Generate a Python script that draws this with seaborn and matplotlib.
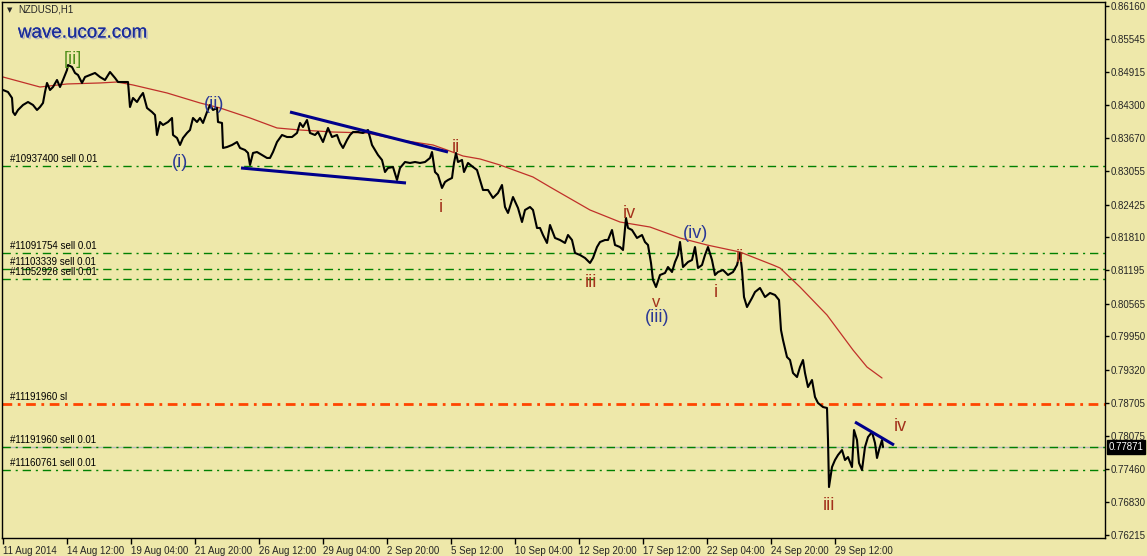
import numpy as np
import pandas as pd
import seaborn as sns
import matplotlib.pyplot as plt
import matplotlib.patheffects as pe
from matplotlib.transforms import blended_transform_factory

# NZDUSD H1, значения (бар -> цена закрытия)
bars = [0, 5, 9, 10, 12, 15, 20, 25, 30, 34, 37, 40, 42, 44, 47, 50, 54, 57, 60, 64,
        65, 69, 72, 75, 79, 82, 87, 92, 97, 102, 107, 112, 115, 120, 125, 127, 130, 134, 137, 140,
        144, 149, 152, 154, 157, 160, 165, 169, 170, 174, 177, 180, 184, 187, 190, 194, 197, 200, 204, 207,
        210, 214, 215, 219, 220, 224, 229, 234, 237, 242, 245, 247, 250, 254, 259, 264, 267, 270, 274, 279,
        284, 289, 294, 297, 300, 304, 307, 312, 315, 320, 325, 329, 334, 337, 340, 344, 347, 350, 355, 360,
        365, 369, 372, 375, 379, 382, 385, 390, 394, 397, 402, 407, 412, 417, 422, 427, 429, 432, 435, 439,
        442, 445,
        449, 451, 453, 455, 459, 461, 465, 470, 474, 477, 480, 485, 490, 495, 499, 502, 505, 510, 515, 519,
        522, 527, 530, 534, 537, 540, 544, 547, 552, 557, 562, 565, 569, 572, 577, 582, 587, 590, 594, 597,
        602, 605, 609, 612, 617, 620, 623, 625, 629, 634, 639, 642, 645, 648, 650, 653, 657, 662, 665, 669,
        672, 675, 677, 680, 685, 689, 692, 695, 699, 702, 705, 709, 712, 715, 720, 725, 730, 734, 737, 739,
        741, 744, 749, 752, 757, 762, 767, 772, 776, 778, 780, 784, 787, 790, 794, 797, 800, 802, 805, 809,
        812, 815, 820, 824, 825, 826, 829, 832, 835, 839, 842, 845, 849, 851, 854, 856, 859, 862, 865, 869,
        872, 874, 876, 879, 880]
close = [0.84581, 0.84543, 0.84431, 0.84167, 0.84111, 0.84205, 0.84299, 0.84355, 0.84299, 0.84205,
         0.84261, 0.84337, 0.84543, 0.84713, 0.84581, 0.84637, 0.84769, 0.84637, 0.84769, 0.84957,
         0.85051, 0.85013, 0.84901, 0.84863, 0.84713, 0.84825, 0.84863, 0.84901, 0.84825, 0.84769,
         0.84919, 0.84807, 0.84731, 0.84731, 0.84731, 0.84261, 0.84431, 0.84355, 0.84449, 0.84525,
         0.84243, 0.84167, 0.84111, 0.83735, 0.83979, 0.83923, 0.83979, 0.84055, 0.83735, 0.83679,
         0.83547, 0.83679, 0.83773, 0.83829, 0.84055, 0.83979, 0.84055, 0.83961, 0.84167, 0.84299,
         0.84205, 0.84243, 0.83979, 0.83961, 0.83491, 0.83509, 0.83547, 0.83603, 0.83491, 0.83453,
         0.83397, 0.83171, 0.83397, 0.83415, 0.83359, 0.83303, 0.83303, 0.83415, 0.83603, 0.83735,
         0.83697, 0.83697, 0.83773, 0.83961, 0.83885, 0.84017, 0.83773, 0.83735, 0.83791, 0.83603,
         0.83867, 0.83697, 0.83735, 0.83585, 0.83491, 0.83641, 0.83735, 0.83791, 0.83791, 0.83773,
         0.83829, 0.83547, 0.83453, 0.83359, 0.83265, 0.83039, 0.83115, 0.83133, 0.82889, 0.83115,
         0.83227, 0.83209, 0.83227, 0.83209, 0.83227, 0.83303, 0.83415, 0.83039, 0.82983, 0.82739,
         0.82851, 0.82889,
         0.82927, 0.83209, 0.83397, 0.83227, 0.83265, 0.83039, 0.83209, 0.83133, 0.83077, 0.82889,
         0.82701, 0.82701, 0.82551, 0.82645, 0.82795, 0.82381, 0.82269, 0.82569, 0.82363, 0.82099,
         0.82325, 0.82381, 0.82325, 0.81987, 0.81987, 0.81855, 0.81705, 0.82043, 0.81799, 0.81761,
         0.81705, 0.81855, 0.81761, 0.81517, 0.81479, 0.81423, 0.81329, 0.81423, 0.81629, 0.81723,
         0.81761, 0.81761, 0.81949, 0.81667, 0.81629, 0.81573, 0.82175, 0.81987, 0.81949, 0.81799,
         0.81855, 0.81723, 0.81667, 0.81329, 0.81009, 0.80877, 0.81103, 0.81141, 0.81253, 0.81159,
         0.81347, 0.81479, 0.81723, 0.81253, 0.81347, 0.81385, 0.81629, 0.81235, 0.81291, 0.81479,
         0.81629, 0.81385, 0.81103, 0.81159, 0.81197, 0.81103, 0.81159, 0.81291, 0.81517, 0.81197,
         0.80689, 0.80501, 0.80671, 0.80783, 0.80859, 0.80689, 0.80765, 0.80727, 0.80633, 0.80069,
         0.79881, 0.79561, 0.79505, 0.79261, 0.79185, 0.79373, 0.79505, 0.79261, 0.78997, 0.79129,
         0.78809, 0.78697, 0.78621, 0.78603, 0.78001, 0.77117, 0.77493, 0.77625, 0.77719, 0.77813,
         0.77625, 0.77681, 0.77493, 0.78189, 0.78001, 0.77569, 0.77437, 0.77869, 0.78057, 0.78151,
         0.77945, 0.77663, 0.77813, 0.78001, 0.77871]

ma_bars = [0, 37, 64, 97, 114, 130, 164, 197, 217, 247, 274, 297, 330, 364, 397, 430, 444, 460,
           477, 497, 530, 547, 587, 617, 647, 677, 704, 737, 770, 777, 797, 824, 850, 864, 879]
ma_vals = [0.84825, 0.84637, 0.84694, 0.84713, 0.84731, 0.84675, 0.84525, 0.84337, 0.84243, 0.84055,
           0.83867, 0.83829, 0.83791, 0.83773, 0.83641, 0.83547, 0.83453, 0.83340, 0.83284, 0.83171,
           0.82945, 0.82757, 0.82325, 0.82099, 0.82005, 0.81799, 0.81667, 0.81535, 0.81291, 0.81235,
           0.80877, 0.80351, 0.79693, 0.79373, 0.79167]

# трендовые линии: (бар1, цена1, бар2, цена2)
trend_lines = [(287, 0.84167, 445, 0.83415),
               (238, 0.83115, 403, 0.82833),
               (852, 0.78339, 891, 0.77907)]

order_labels = ["#10937400 sell 0.01", "#11091754 sell 0.01", "#11103339 sell 0.01",
                "#11052926 sell 0.01", "#11191960 sl", "#11191960 sell 0.01", "#11160761 sell 0.01"]
order_levels = [0.83152, 0.81517, 0.81216, 0.81028, 0.78678, 0.77875, 0.77437]
order_is_sl = [False, False, False, False, True, False, False]
bid = 0.77871

wave_text = ["[ii]", "(i)", "(ii)", "ii", "i", "iii", "iv", "v", "(iii)", "(iv)", "i", "ii", "iii", "iv"]
wave_bar = [70, 177, 211, 453, 438, 588, 626, 653, 654, 693, 713, 737, 826, 897]
wave_price = [0.85145, 0.83209, 0.84299, 0.83509, 0.82363, 0.80971, 0.82250, 0.80580, 0.80310,
              0.81874, 0.80765, 0.81423, 0.76779, 0.78264]
wave_kind = ["g", "b", "b", "r", "r", "r", "r", "r", "b", "b", "r", "r", "r", "r"]

y_ticks = [0.86160, 0.85545, 0.84915, 0.84300, 0.83670, 0.83055, 0.82425, 0.81810, 0.81195,
           0.80565, 0.79950, 0.79320, 0.78705, 0.78075, 0.77460, 0.76830, 0.76215]
x_ticks = [0, 64, 128, 192, 256, 320, 384, 448, 512, 576, 640, 704, 768, 832]
x_labels = ["11 Aug 2014", "14 Aug 12:00", "19 Aug 04:00", "21 Aug 20:00", "26 Aug 12:00",
            "29 Aug 04:00", "2 Sep 20:00", "5 Sep 12:00", "10 Sep 04:00", "12 Sep 20:00",
            "17 Sep 12:00", "22 Sep 04:00", "24 Sep 20:00", "29 Sep 12:00"]

bg = "#EEE8AA"
sns.set_theme(style="white", rc={"axes.facecolor": bg, "figure.facecolor": bg})
plt.rcParams["font.family"] = ["Liberation Sans", "DejaVu Sans"]

fig = plt.figure(figsize=(11.47, 5.56), dpi=100)
ax = fig.add_axes([2 / 1147, 18 / 556, 1103 / 1147, 536 / 556])

# горизонтальные линии ордеров
for lab, lvl, sl in zip(order_labels, order_levels, order_is_sl):
    if sl:
        ax.axhline(lvl, color="#FF4500", lw=2, ls=(0, (3.5, 2, 1, 2)), zorder=1)
    else:
        ax.axhline(lvl, color="#008000", lw=1, ls=(0, (6, 3.5, 1.5, 3.5)), zorder=1)
    ax.annotate(lab, xy=(7, lvl), xytext=(0, 1.5), textcoords="offset points",
                fontsize=7, color="black", va="bottom", ha="left")
ax.axhline(bid, color="#b8b8b8", lw=1, zorder=0.9)

df = pd.DataFrame({"bar": bars, "close": close})
ma = pd.DataFrame({"bar": ma_bars, "ma": ma_vals})
sns.lineplot(data=ma, x="bar", y="ma", ax=ax, color="#c0302a", lw=0.9, estimator=None, sort=False)
sns.lineplot(data=df, x="bar", y="close", ax=ax, color="black", lw=1.5, estimator=None, sort=False)

for x1, y1, x2, y2 in trend_lines:
    ax.plot([x1, x2], [y1, y2], color="#00008B", lw=2.2, solid_capstyle="butt")

colors = {"g": "#4f8f1a", "b": "#2a3896", "r": "#a3321c"}
for t, b, p, k in zip(wave_text, wave_bar, wave_price, wave_kind):
    ax.text(b, p, t, color=colors[k], fontsize=13 if t != "v" else 12, ha="center", va="center")

ax.text(16 / 1103, 1 - 31 / 536, "wave.ucoz.com", transform=ax.transAxes, fontsize=13.5,
        color="#1a2d9c", va="center", ha="left",
        path_effects=[pe.withSimplePatchShadow(offset=(1.2, -1.2), shadow_rgbFace="#a8a8c0", alpha=0.8),
                      pe.Normal()])
ax.text(5 / 1103, 1 - 8 / 536, "\u25bc", transform=ax.transAxes, fontsize=5, va="center", ha="left",
        family="DejaVu Sans")
ax.text(16 / 1103, 1 - 8 / 536, "NZDUSD,H1", transform=ax.transAxes, fontsize=7, va="center", ha="left")

ax.set_xlim(-1, 1102)
ax.set_ylim(0.76159, 0.86235)
ax.yaxis.tick_right()
ax.set_yticks(y_ticks)
ax.set_yticklabels([f"{v:.5f}" for v in y_ticks], fontsize=7)
ax.set_xticks(x_ticks)
ax.set_xticklabels(x_labels, fontsize=7, ha="left")
ax.tick_params(axis="x", direction="out", length=4, width=1, color="black", pad=1.5, bottom=True, top=False)
ax.tick_params(axis="y", direction="out", length=3, width=1, color="black", pad=1, right=True, left=False)
ax.set_xlabel("")
ax.set_ylabel("")
for s in ax.spines.values():
    s.set_color("black")
    s.set_linewidth(1)

trans = blended_transform_factory(ax.transAxes, ax.transData)
ax.text(1.003, bid, f"{bid:.5f}", transform=trans, fontsize=7, color="white", va="center", ha="left",
        bbox=dict(facecolor="black", edgecolor="black", pad=1.2))

fig.savefig("out.png", dpi=100, facecolor=bg)
